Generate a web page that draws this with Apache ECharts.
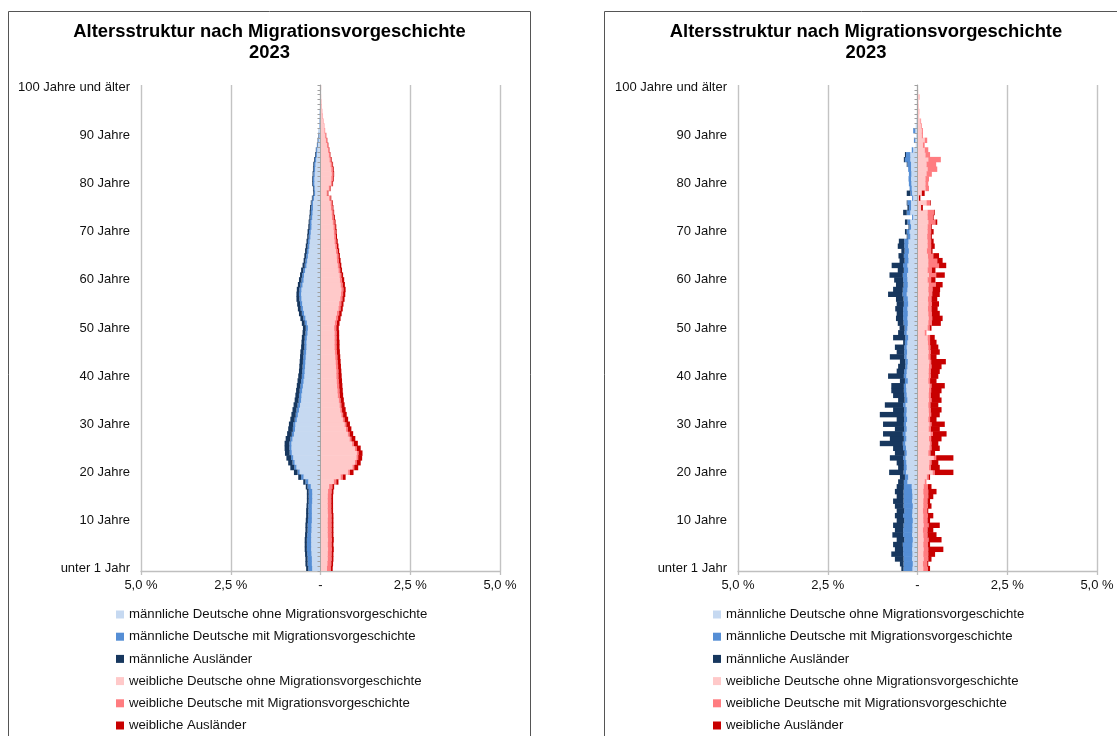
<!DOCTYPE html>
<html><head><meta charset="utf-8">
<script src="https://cdn.jsdelivr.net/npm/echarts@6/dist/echarts.min.js"></script>
<style>html,body{margin:0;padding:0;background:#fff;}#c{width:1117px;height:736px;}</style>
</head><body><div id="c"></div>
<script>
// ---- categories / tick labels ----
const ages = Array.from({length: 101}, (_, i) => String(i));
const ageTickLabels = {0:'unter 1 Jahr',10:'10 Jahre',20:'20 Jahre',30:'30 Jahre',40:'40 Jahre',50:'50 Jahre',60:'60 Jahre',70:'70 Jahre',80:'80 Jahre',90:'90 Jahre',100:'100 Jahre und älter'};
const chartTitle = 'Altersstruktur nach Migrationsvorgeschichte\n2023';
const seriesNames = [
  'männliche Deutsche ohne Migrationsvorgeschichte',
  'männliche Deutsche mit Migrationsvorgeschichte',
  'männliche Ausländer',
  'weibliche Deutsche ohne Migrationsvorgeschichte',
  'weibliche Deutsche mit Migrationsvorgeschichte',
  'weibliche Ausländer'
];

// ---- left pyramid (share of population in %, ages 0..100) ----
const L_m_ohne = [0.23,0.24,0.24,0.25,0.26,0.26,0.26,0.26,0.25,0.25,
 0.24,0.24,0.24,0.24,0.23,0.23,0.23,0.27,0.34,0.47,
 0.58,0.67,0.72,0.76,0.80,0.81,0.81,0.78,0.74,0.71,
 0.70,0.66,0.63,0.60,0.57,0.54,0.53,0.51,0.49,0.47,
 0.45,0.44,0.43,0.42,0.41,0.40,0.39,0.39,0.38,0.36,
 0.35,0.38,0.42,0.46,0.49,0.51,0.53,0.54,0.53,0.50,
 0.47,0.46,0.43,0.39,0.37,0.35,0.33,0.31,0.30,0.28,
 0.27,0.25,0.25,0.23,0.22,0.21,0.21,0.18,0.15,0.16,
 0.17,0.17,0.16,0.15,0.14,0.12,0.10,0.09,0.07,0.05,
 0.03,0.04,0.03,0.02,0.01,0.015,0.005,0.01,0.01,0.005,0.005];
const L_m_mit = [0.11,0.12,0.12,0.12,0.12,0.12,0.12,0.11,0.11,0.11,
 0.11,0.10,0.10,0.10,0.10,0.10,0.10,0.09,0.08,0.07,
 0.06,0.06,0.06,0.06,0.06,0.06,0.06,0.06,0.06,0.06,
 0.06,0.06,0.06,0.07,0.07,0.07,0.07,0.07,0.07,0.07,
 0.07,0.07,0.07,0.07,0.07,0.07,0.06,0.06,0.06,0.06,
 0.06,0.06,0.06,0.06,0.06,0.06,0.06,0.06,0.06,0.06,
 0.06,0.05,0.05,0.05,0.05,0.05,0.05,0.05,0.05,0.05,
 0.05,0.05,0.05,0.05,0.05,0.05,0.04,0.04,0.03,0.03,
 0.04,0.04,0.04,0.04,0.04,0.04,0.03,0.03,0.02,0.02,
 0.02,0.01,0.01,0.01,0.01,0.005,0.005,0,0,0,0];
const L_m_aus = [0.06,0.06,0.06,0.06,0.06,0.06,0.06,0.06,0.06,0.06,
 0.06,0.06,0.06,0.05,0.05,0.05,0.05,0.05,0.06,0.08,
 0.10,0.11,0.12,0.13,0.13,0.13,0.13,0.13,0.13,0.13,
 0.12,0.12,0.12,0.11,0.11,0.11,0.10,0.10,0.10,0.10,
 0.10,0.09,0.09,0.09,0.09,0.09,0.09,0.08,0.08,0.08,
 0.08,0.08,0.08,0.08,0.08,0.08,0.08,0.07,0.07,0.07,
 0.07,0.06,0.06,0.06,0.05,0.05,0.05,0.05,0.04,0.04,
 0.04,0.04,0.03,0.03,0.03,0.03,0.02,0.02,0.02,0.02,
 0.02,0.02,0.02,0.02,0.02,0.02,0.02,0.01,0.01,0.01,
 0.01,0,0,0,0,0,0,0,0,0,0];
const L_f_ohne = [0.18,0.19,0.20,0.20,0.21,0.20,0.21,0.20,0.20,0.20,
 0.20,0.21,0.20,0.20,0.20,0.20,0.21,0.24,0.37,0.56,
 0.77,0.89,0.96,1.00,1.01,0.96,0.88,0.81,0.76,0.71,
 0.67,0.62,0.58,0.55,0.53,0.51,0.48,0.47,0.46,0.45,
 0.44,0.44,0.43,0.42,0.41,0.40,0.39,0.39,0.39,0.39,
 0.38,0.40,0.43,0.46,0.50,0.52,0.55,0.57,0.58,0.56,
 0.54,0.53,0.50,0.48,0.46,0.45,0.43,0.41,0.39,0.38,
 0.37,0.36,0.34,0.32,0.31,0.29,0.28,0.24,0.17,0.23,
 0.29,0.30,0.31,0.30,0.28,0.25,0.23,0.21,0.18,0.15,
 0.13,0.11,0.10,0.08,0.06,0.04,0.035,0.025,0.02,0.01,0.02];
const L_f_mit = [0.11,0.11,0.11,0.11,0.11,0.11,0.11,0.11,0.11,0.11,
 0.11,0.10,0.10,0.10,0.10,0.10,0.10,0.09,0.07,0.06,
 0.05,0.05,0.05,0.05,0.05,0.05,0.05,0.05,0.05,0.05,
 0.05,0.05,0.05,0.05,0.05,0.05,0.06,0.06,0.06,0.06,
 0.06,0.06,0.06,0.06,0.06,0.06,0.06,0.06,0.06,0.06,
 0.06,0.06,0.06,0.06,0.06,0.06,0.06,0.06,0.06,0.06,
 0.06,0.05,0.05,0.05,0.05,0.05,0.05,0.05,0.05,0.05,
 0.05,0.05,0.05,0.05,0.05,0.05,0.04,0.04,0.03,0.03,
 0.04,0.05,0.05,0.05,0.05,0.04,0.04,0.03,0.03,0.03,
 0.02,0.02,0.01,0.01,0.01,0.01,0.005,0.005,0,0,0];
const L_f_aus = [0.05,0.05,0.05,0.05,0.05,0.05,0.05,0.05,0.05,0.05,
 0.05,0.05,0.05,0.05,0.05,0.05,0.05,0.05,0.06,0.08,
 0.10,0.11,0.11,0.11,0.11,0.11,0.11,0.11,0.10,0.10,
 0.10,0.10,0.10,0.10,0.09,0.09,0.09,0.09,0.09,0.09,
 0.09,0.08,0.08,0.08,0.08,0.08,0.08,0.08,0.07,0.07,
 0.07,0.07,0.07,0.07,0.06,0.06,0.06,0.06,0.06,0.06,
 0.06,0.05,0.05,0.05,0.05,0.04,0.04,0.04,0.04,0.03,
 0.03,0.03,0.03,0.03,0.02,0.02,0.02,0.02,0.02,0.02,
 0.02,0.02,0.02,0.02,0.02,0.02,0.01,0.01,0.01,0.01,
 0.01,0,0,0,0,0,0,0,0,0,0];

// ---- right pyramid (share of population in %, ages 0..100) ----
const R_m_ohne = [0.14,0.13,0.15,0.14,0.15,0.14,0.13,0.15,0.14,0.14,
 0.13,0.15,0.14,0.13,0.15,0.14,0.15,0.16,
 0.28,0.26,0.32,0.30,0.31,0.33,0.30,0.32,0.34,0.31,0.33,0.30,0.32,0.29,0.31,0.30,0.33,0.28,0.30,0.31,0.32,0.27,0.31,0.30,0.28,0.27,0.30,0.29,0.30,0.28,0.26,0.30,0.28,
 0.27,0.28,0.27,0.28,0.26,0.27,0.30,0.28,0.27,0.28,0.29,0.26,0.28,0.25,0.26,0.24,0.26,0.25,0.20,0.22,
 0.18,0.20,0.12,0.20,0.18,0.18,0.12,0.15,0.16,0.17,0.18,0.17,0.18,0.18,0.20,0.20,0.12,0.05,0.06,0.04,0.06,0.05,0.03,0.02,0.01,0.01,0,0,0,0];
const R_m_mit = [0.25,0.26,0.24,0.26,0.25,0.27,0.24,0.25,0.26,0.25,0.24,0.25,0.23,0.26,0.24,0.25,0.24,0.22,
 0.10,0.09,0.07,0.08,0.07,0.07,0.06,0.08,0.07,0.07,0.08,0.07,0.06,0.08,0.07,0.07,0.07,0.08,0.07,0.07,0.06,0.08,0.07,0.07,0.06,0.07,0.07,0.08,0.07,0.07,0.08,0.07,0.08,
 0.12,0.12,0.13,0.12,0.12,0.12,0.12,0.13,0.12,0.12,0.12,0.12,0.12,0.11,0.12,0.12,0.11,0.12,0.08,0.08,
 0.05,0.08,0.03,0.10,0.06,0.10,0.03,0.05,0.06,0.07,0.07,0.07,0.08,0.10,0.15,0.12,0.04,0,0.04,0,0.06,0,0,0,0,0,0,0,0,0];
const R_m_aus = [0.06,0.10,0.24,0.33,0.23,0.27,0.21,0.30,0.23,0.29,0.21,0.23,0.21,0.24,0.29,0.19,0.24,0.20,
 0.16,0.14,0.40,0.16,0.20,0.37,0.27,0.28,0.64,0.39,0.55,0.26,0.58,0.21,0.67,0.31,0.51,0.18,0.31,0.35,0.35,0.14,0.44,0.21,0.20,0.15,0.40,0.21,0.26,0.05,0.34,0.17,0.14,
 0.16,0.20,0.18,0.22,0.20,0.21,0.40,0.27,0.21,0.25,0.37,0.17,0.32,0.14,0.15,0.09,0.18,0.15,0.02,0.05,
 0.02,0.07,0,0.10,0.04,0.02,0,0.10,0,0,0,0,0,0.02,0.03,0.03,0,0,0,0,0,0,0,0,0,0,0,0,0,0];
const R_f_ohne = [0.16,0.15,0.17,0.16,0.17,0.16,0.17,0.16,0.15,0.17,0.16,0.16,0.15,0.16,0.16,0.17,0.16,0.17,
 0.20,0.26,0.42,0.32,0.33,0.45,0.30,0.33,0.34,0.32,0.36,0.31,0.33,0.30,0.32,0.31,0.30,0.32,0.31,0.32,0.33,0.30,0.31,0.31,0.32,0.33,0.30,0.31,0.30,0.29,0.28,0.20,0.28,
 0.30,0.31,0.30,0.29,0.30,0.29,0.31,0.30,0.31,0.28,0.32,0.28,0.30,0.30,0.29,0.26,0.28,0.28,0.27,0.28,
 0.28,0.30,0.28,0.28,0.10,0.25,0.04,0.12,0.22,0.22,0.22,0.25,0.28,0.25,0.30,0.22,0.20,0.15,0.20,0.12,0.12,0.10,0.08,0.05,0.06,0.04,0.03,0.07,0.02,0];
const R_f_mit = [0.13,0.12,0.13,0.14,0.13,0.13,0.14,0.12,0.13,0.14,0.12,0.13,0.12,0.13,0.12,0.13,0.14,0.12,
 0.05,0.05,0.06,0.05,0.06,0.07,0.06,0.06,0.05,0.06,0.07,0.06,0.06,0.05,0.06,0.06,0.06,0.07,0.06,0.06,0.06,0.05,0.06,0.06,0.07,0.05,0.06,0.06,0.06,0.06,0.07,0.05,0.06,
 0.10,0.10,0.10,0.10,0.10,0.10,0.10,0.12,0.20,0.10,0.20,0.12,0.30,0.25,0.15,0.12,0.10,0.10,0.10,0.10,
 0.10,0.20,0.15,0.18,0,0.10,0,0,0.10,0.08,0.10,0.15,0.27,0.27,0.35,0.13,0.10,0.05,0.07,0.03,0.03,0.02,0.02,0,0,0,0,0,0,0];
const R_f_aus = [0.06,0.03,0.09,0.19,0.42,0.06,0.36,0.25,0.16,0.31,0.07,0.15,0.03,0.10,0.07,0.14,0.23,0.10,
 0,0.04,0.52,0.25,0.19,0.48,0.13,0.23,0.19,0.29,0.38,0.25,0.37,0.18,0.24,0.30,0.22,0.28,0.25,0.29,0.37,0.18,0.21,0.25,0.28,0.41,0.17,0.25,0.22,0.18,0.13,0,0.05,
 0.25,0.29,0.22,0.17,0.20,0.16,0.21,0.21,0.19,0.12,0.24,0.10,0.20,0.15,0.16,0.04,0.10,0.07,0.03,0.07,
 0.02,0.05,0.02,0.02,0.05,0.02,0.04,0.08,0,0,0,0,0,0,0,0,0,0,0,0,0,0,0,0,0,0,0,0,0,0];

// ---- styling / layout ----
const colors = ['#c6d9f1','#558ed5','#17375e','#ffc9c9','#ff7c80','#c80000'];
const FONT = '"Liberation Sans", Arial, sans-serif';
const panels = [
  {data:[L_m_ohne,L_m_mit,L_m_aus,L_f_ohne,L_f_mit,L_f_aus], gridLeft:141, center:269.5, legendLeft:116, boxX:8.5, boxW:522},
  {data:[R_m_ohne,R_m_mit,R_m_aus,R_f_ohne,R_f_mit,R_f_aus], gridLeft:738, center:866, legendLeft:713, boxX:604.5, boxW:560}
];

const grid = [], xAxis = [], yAxis = [], series = [], legend = [], graphic = [];
panels.forEach((p, i) => {
  grid.push({left:p.gridLeft, top:85, width:359, height:486, containLabel:false});
  xAxis.push({
    gridIndex:i, type:'value', min:-5, max:5, interval:2.5,
    axisLine:{show:true, onZero:false, lineStyle:{color:'#bfbfbf', width:1.3}},
    axisTick:{show:true, length:4, lineStyle:{color:'#bfbfbf', width:1.3}},
    splitLine:{show:true, lineStyle:{color:'#c3c3c3', width:1.4}},
    axisLabel:{color:'#111', fontSize:13, fontFamily:FONT, margin:8,
      formatter: v => v === 0 ? '-' : Math.abs(v).toFixed(1).replace('.', ',') + ' %'}
  });
  yAxis.push({
    gridIndex:i, type:'category', data:ages, position:'left',
    axisLine:{show:false, onZero:false}, axisTick:{show:false}, splitLine:{show:false},
    axisLabel:{interval:9, color:'#111', fontSize:13, fontFamily:FONT, margin:11,
      formatter:(v, idx) => ageTickLabels[idx] || ''}
  });
  yAxis.push({
    gridIndex:i, type:'category', data:ages, position:'left', z:10,
    axisLine:{show:true, onZero:true, lineStyle:{color:'#a6a6a6', width:1}},
    axisTick:{show:true, interval:0, length:3, lineStyle:{color:'#a0a0a0'}},
    axisLabel:{show:false}, splitLine:{show:false}
  });
  p.data.forEach((arr, k) => {
    series.push({
      name:seriesNames[k], type:'bar', xAxisIndex:i, yAxisIndex:2*i, stack:'pyr'+i,
      barWidth:5.4, itemStyle:{color:colors[k]},
      data: k < 3 ? arr.map(v => -v) : arr.slice()
    });
  });
  legend.push({
    orient:'vertical', left:p.legendLeft, top:607, padding:0, itemWidth:8, itemHeight:8, itemGap:7.2,
    icon:'rect', data:seriesNames, selectedMode:false,
    textStyle:{fontSize:13.2, color:'#111', fontFamily:FONT, lineHeight:15}
  });
  graphic.push({type:'rect', shape:{x:p.boxX, y:11.5, width:p.boxW, height:760}, style:{fill:'none', stroke:'#555', lineWidth:1}, silent:true});
  graphic.push({type:'text', x:p.center, y:21, style:{text:chartTitle, textAlign:'center', textVerticalAlign:'top',
    font:'bold 18.4px ' + FONT, lineHeight:21, fill:'#000'}, silent:true});
});

const chart = echarts.init(document.getElementById('c'), null, {renderer:'canvas'});
chart.setOption({animation:false, backgroundColor:'#fff', grid, xAxis, yAxis, series, legend, graphic});
</script>
</body></html>
